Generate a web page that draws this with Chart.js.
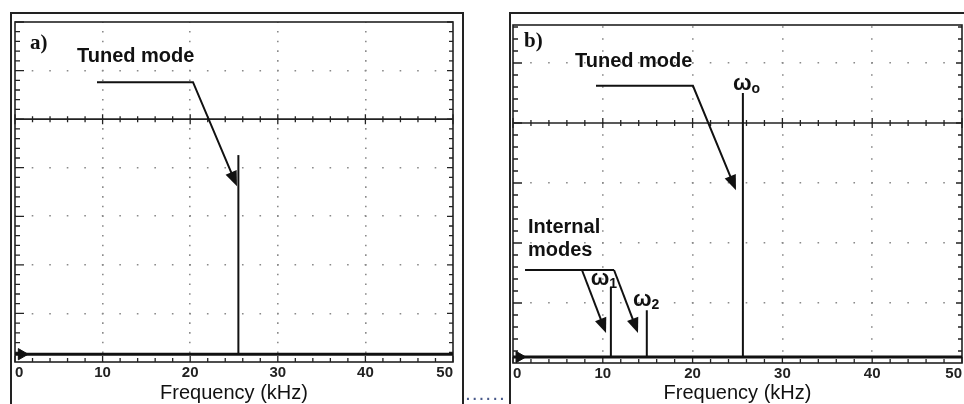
<!DOCTYPE html>
<html>
<head>
<meta charset="utf-8">
<script src="https://cdn.jsdelivr.net/npm/chart.js@4.4.1/dist/chart.umd.min.js"></script>
<style>
  html, body { margin: 0; padding: 0; background: #fff; width: 964px; height: 404px; overflow: hidden; }
  .frame { position: absolute; border: 2px solid #222; box-sizing: border-box; }
  #frameA { left: 10px; top: 12px; width: 454px; height: 420px; }
  #frameB { left: 509px; top: 12px; width: 480px; height: 420px; }
  canvas { position: absolute; top: 0; }
  #dots { position: absolute; left: 466px; top: 387px; font: bold 14px "Liberation Sans"; letter-spacing: 2.9px; color: #4a5a8a; }
</style>
</head>
<body>
<div class="frame" id="frameA"></div>
<div class="frame" id="frameB"></div>
<canvas id="chartA" width="480" height="404" style="left:0"></canvas>
<canvas id="chartB" width="500" height="404" style="left:490px"></canvas>
<div id="dots">......</div>
<script>
// ---- data ----
const freqTicks = [0, 10, 20, 30, 40, 50];

// panel a)
const baseA = 0.16;
const peakFreqA = [25.5];
const peakAmpA = [4.26];

// panel b)
const baseB = 0.1;
const peakFreqB = [10.9, 14.9, 25.6];
const peakAmpB = [1.27, 0.88, 4.5];
const peakSubB = ['1', '2', 'o'];

const SANS = '"Liberation Sans", Arial, sans-serif';

function spikes(freqs, amps, base) {
  const pts = [];
  freqs.forEach((f, i) => {
    pts.push({x: f, y: base}, {x: f, y: amps[i]}, {x: f, y: null});
  });
  return pts;
}

// arrow head at the end of a polyline
function drawLeader(ctx, p, arrow) {
  const n = p.length;
  let end = p[n - 1];
  let ang = 0;
  if (arrow) {
    const prev = p[n - 2];
    ang = Math.atan2(end[1] - prev[1], end[0] - prev[0]);
    end = [end[0] - Math.cos(ang) * 10, end[1] - Math.sin(ang) * 10];
  }
  ctx.beginPath();
  ctx.moveTo(p[0][0], p[0][1]);
  for (let i = 1; i < n - 1; i++) ctx.lineTo(p[i][0], p[i][1]);
  ctx.lineTo(end[0], end[1]);
  ctx.stroke();
  if (arrow) {
    const t = p[n - 1], L = 15, W = 6;
    const bx = t[0] - Math.cos(ang) * L, by = t[1] - Math.sin(ang) * L;
    ctx.beginPath();
    ctx.moveTo(t[0], t[1]);
    ctx.lineTo(bx + Math.sin(ang) * W, by - Math.cos(ang) * W);
    ctx.lineTo(bx - Math.sin(ang) * W, by + Math.cos(ang) * W);
    ctx.closePath();
    ctx.fill();
  }
}

const scopePlugin = {
  id: 'scope',
  beforeDatasetsDraw(chart, args, o) {
    const {ctx, chartArea: a, scales: {x, y}} = chart;
    ctx.save();
    ctx.strokeStyle = '#222';
    // solid reference line
    const yc = y.getPixelForValue(o.centerLine);
    ctx.lineWidth = 1.6;
    ctx.beginPath(); ctx.moveTo(a.left, yc); ctx.lineTo(a.right, yc); ctx.stroke();
    // minor ticks along x
    ctx.lineWidth = 1.3;
    ctx.beginPath();
    for (let i = 0; i <= 25; i++) {
      const v = i * 2, px = x.getPixelForValue(v);
      const major = v % 10 === 0;
      const h = major ? 5 : 3;
      ctx.moveTo(px, yc - h); ctx.lineTo(px, yc + h);
      ctx.moveTo(px, a.bottom); ctx.lineTo(px, a.bottom - (major ? 6 : 4));
    }
    // minor ticks along y
    const nY = Math.floor(y.max * 5 + 1e-6);
    for (let i = 1; i <= nY; i++) {
      const py = y.getPixelForValue(i / 5);
      const major = i % 5 === 0;
      ctx.moveTo(a.left, py); ctx.lineTo(a.left + (major ? 9 : 5), py);
      ctx.moveTo(a.right, py); ctx.lineTo(a.right - (major ? 6 : 4), py);
    }
    ctx.stroke();
    // plot box
    ctx.lineWidth = 1.6;
    ctx.strokeRect(a.left, a.top, a.width, a.height);
    ctx.restore();
  },
  afterDatasetsDraw(chart, args, o) {
    const {ctx, chartArea: a, scales: {x, y}} = chart;
    ctx.save();
    ctx.fillStyle = '#111';
    ctx.strokeStyle = '#111';
    ctx.textBaseline = 'middle';
    ctx.font = 'bold 21px "Liberation Serif", serif';
    ctx.fillText(o.letter, a.left + o.letterPos[0], a.top + o.letterPos[1]);

    ctx.font = 'bold 20px ' + SANS;
    o.labels.forEach(l => ctx.fillText(l.text, x.getPixelForValue(l.x), y.getPixelForValue(l.y)));

    ctx.lineWidth = 2;
    o.leaders.forEach(l => {
      const p = l.pts.map(([vx, vy]) => [x.getPixelForValue(vx), y.getPixelForValue(vy)]);
      drawLeader(ctx, p, l.arrow);
    });

    ctx.textBaseline = 'alphabetic';
    (o.omegas || []).forEach(w => {
      const px = x.getPixelForValue(w.x), py = y.getPixelForValue(w.y) + 5;
      ctx.font = 'bold 22px ' + SANS;
      ctx.fillText('ω', px, py);
      const wd = ctx.measureText('ω').width;
      ctx.font = 'bold 14px ' + SANS;
      ctx.fillText(w.sub, px + wd, py + 3);
    });
    ctx.restore();
  }
};

function makeChart(id, cfg) {
  return new Chart(document.getElementById(id), {
    type: 'scatter',
    data: {
      datasets: [
        { data: [{x: 0, y: cfg.base}, {x: 50, y: cfg.base}], showLine: true,
          borderColor: '#111', borderWidth: 2.8, pointRadius: 0 },
        { data: spikes(cfg.freqs, cfg.amps, cfg.base), showLine: true, spanGaps: false,
          borderColor: '#111', borderWidth: 2, pointRadius: 0 },
        { data: [{x: cfg.markX, y: cfg.base}], pointStyle: 'triangle', rotation: 90,
          pointRadius: 6.5, backgroundColor: '#111', borderColor: '#111', borderWidth: 1 }
      ]
    },
    options: {
      responsive: false,
      animation: false,
      events: [],
      layout: { padding: cfg.pad },
      plugins: {
        legend: { display: false },
        tooltip: { enabled: false },
        scope: cfg.scope
      },
      scales: {
        x: {
          type: 'linear', min: 0, max: 50,
          afterBuildTicks: s => { s.ticks = freqTicks.map(v => ({value: v})); },
          afterFit: s => { s.height = cfg.axisH; },
          ticks: { align: 'inner', padding: 2, autoSkip: false, maxRotation: 0,
                   color: '#222', font: { family: SANS, size: 15, weight: 'bold' } },
          grid: { drawTicks: false, lineWidth: 1.6,
                  color: c => (c.tick && (c.tick.value === 0 || c.tick.value === 50)) ? 'rgba(0,0,0,0)' : '#8a8a8a' },
          border: { display: false, dash: [1.6, cfg.dotY - 1.6], dashOffset: cfg.dotYOffset },
          title: { display: true, text: 'Frequency (kHz)', color: '#111',
                   font: { family: SANS, size: 20, lineHeight: 1 }, padding: { top: 0, bottom: 1 } }
        },
        y: {
          type: 'linear', min: 0, max: cfg.ymax,
          afterBuildTicks: s => { s.ticks = cfg.rows.map(v => ({value: v})); },
          afterFit: s => { s.width = 0; },
          ticks: { display: false },
          grid: { drawTicks: false, lineWidth: 1.6, color: '#8a8a8a' },
          border: { display: false, dash: [1.6, cfg.dotX - 1.6], dashOffset: 0.8 }
        }
      }
    },
    plugins: [scopePlugin]
  });
}

makeChart('chartA', {
  base: baseA, freqs: peakFreqA, amps: peakAmpA, markX: 0.75,
  pad: { left: 15, right: 27, top: 22, bottom: 0 }, axisH: 42,
  ymax: 7, rows: [1, 2, 3, 4, 6],
  dotX: 438 / 25, dotY: 340 / 35, dotYOffset: 0.8,
  scope: {
    centerLine: 5,
    letter: 'a)', letterPos: [15, 22],
    labels: [{ text: 'Tuned mode', x: 7.08, y: 6.28 }],
    leaders: [{ pts: [[9.36, 5.76], [20.32, 5.76], [25.34, 3.62]], arrow: true }]
  }
});

makeChart('chartB', {
  base: baseB, freqs: peakFreqB, amps: peakAmpB, markX: 0.7,
  pad: { left: 23, right: 28, top: 25, bottom: 0 }, axisH: 41,
  ymax: 338 / 60, rows: [1, 2, 3, 5],
  dotX: 449 / 25, dotY: 12, dotYOffset: 10.8,
  scope: {
    centerLine: 4,
    letter: 'b)', letterPos: [11, 17],
    labels: [
      { text: 'Tuned mode', x: 6.9, y: 5.03 },
      { text: 'Internal', x: 1.67, y: 2.26 },
      { text: 'modes', x: 1.67, y: 1.87 }
    ],
    leaders: [
      { pts: [[9.24, 4.62], [20.04, 4.62], [24.83, 2.88]], arrow: true },
      { pts: [[1.34, 1.55], [11.25, 1.55]], arrow: false },
      { pts: [[7.68, 1.55], [10.36, 0.5]], arrow: true },
      { pts: [[11.25, 1.55], [13.92, 0.5]], arrow: true }
    ],
    omegas: [
      { sub: peakSubB[0], x: 8.66, y: 1.38 },
      { sub: peakSubB[1], x: 13.36, y: 1.03 },
      { sub: peakSubB[2], x: 24.5, y: 4.63 }
    ]
  }
});
</script>
</body>
</html>
